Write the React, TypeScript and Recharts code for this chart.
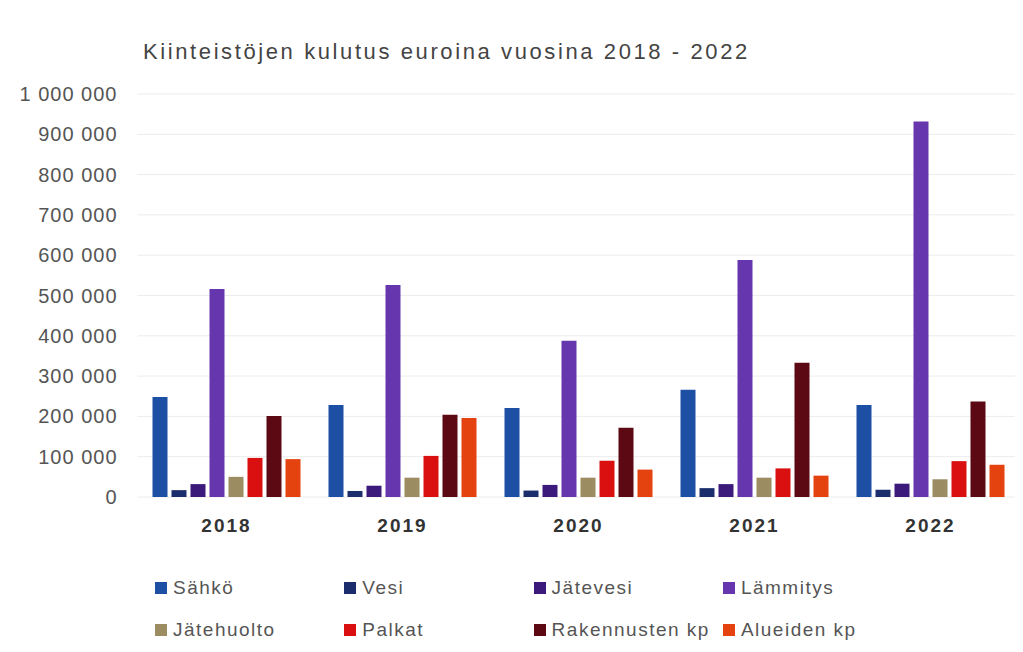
import { BarChart, Bar, XAxis, YAxis, CartesianGrid } from "recharts"

const years = ["2018", "2019", "2020", "2021", "2022"]

const sahko = [248000, 228000, 221000, 266000, 228000]
const vesi = [17000, 15000, 16000, 22000, 18000]
const jatevesi = [32000, 28000, 30000, 32000, 33000]
const lammitys = [516000, 526000, 388000, 588000, 932000]
const jatehuolto = [50000, 48000, 48000, 48000, 44000]
const palkat = [97000, 102000, 90000, 71000, 89000]
const rakennusten = [201000, 204000, 172000, 333000, 237000]
const alueiden = [94000, 196000, 68000, 53000, 80000]

const seriesNames = [
  "Sähkö",
  "Vesi",
  "Jätevesi",
  "Lämmitys",
  "Jätehuolto",
  "Palkat",
  "Rakennusten kp",
  "Alueiden kp",
]
const seriesValues = [sahko, vesi, jatevesi, lammitys, jatehuolto, palkat, rakennusten, alueiden]
const seriesColors = [
  "#1d4fa5",
  "#1b2d6c",
  "#3b1a7c",
  "#6536ad",
  "#9b8c62",
  "#d90f10",
  "#5c0913",
  "#e4430f",
]

const yTicks = [0, 100000, 200000, 300000, 400000, 500000, 600000, 700000, 800000, 900000, 1000000]

const data = years.map((year, i) => {
  const row: Record<string, string | number> = { year }
  seriesNames.forEach((name, s) => {
    row[name] = seriesValues[s][i]
  })
  return row
})

const fmt = (v: number) => String(v).replace(/\B(?=(\d{3})+(?!\d))/g, " ")

// eslint-disable-next-line @typescript-eslint/no-explicit-any
function YTick({ x, y, payload }: any) {
  return (
    <text
      x={x - 12}
      y={y}
      dy="0.35em"
      textAnchor="end"
      fontFamily="'Liberation Sans', Arial, sans-serif"
      fontSize={20}
      letterSpacing={1}
      fill="#555"
    >
      {fmt(payload.value)}
    </text>
  )
}

// eslint-disable-next-line @typescript-eslint/no-explicit-any
function XTick({ x, y, payload }: any) {
  return (
    <text
      x={x + 1}
      y={y + 27}
      textAnchor="middle"
      fontFamily="'Liberation Sans', Arial, sans-serif"
      fontSize={19}
      fontWeight="bold"
      letterSpacing={2}
      fill="#333"
    >
      {payload.value}
    </text>
  )
}

const font = "'Liberation Sans', Arial, sans-serif"

export default function App() {
  return (
    <div style={{ position: "relative", width: 1012, height: 636, fontFamily: font }}>
      <div
        style={{
          position: "absolute",
          left: 135,
          top: 33,
          fontSize: 22,
          lineHeight: "22px",
          letterSpacing: 2.6,
          color: "#444",
          whiteSpace: "nowrap",
        }}
      >
        Kiinteistöjen kulutus euroina vuosina 2018 - 2022
      </div>
      <BarChart
        width={1012}
        height={636}
        data={data}
        margin={{ top: 86, right: 2.5, bottom: 107, left: 0 }}
        barCategoryGap={15}
        barGap={4}
      >
        <CartesianGrid vertical={false} stroke="#ececec" />
        <XAxis dataKey="year" axisLine={false} tickLine={false} height={40} tick={<XTick />} />
        <YAxis
          width={129.5}
          domain={[0, 1000000]}
          ticks={yTicks}
          interval={0}
          axisLine={false}
          tickLine={false}
          tick={<YTick />}
        />
        {seriesNames.map((name, s) => (
          <Bar key={name} dataKey={name} fill={seriesColors[s]} isAnimationActive={false} />
        ))}
      </BarChart>
      {seriesNames.map((name, s) => (
        <div
          key={name}
          style={{
            position: "absolute",
            left: 147 + (s % 4) * 189.3,
            top: (s < 4 ? 580 : 622) - 11,
            height: 22,
            display: "flex",
            alignItems: "center",
            whiteSpace: "nowrap",
          }}
        >
          <span
            style={{ width: 12, height: 12, background: seriesColors[s], marginRight: 6, display: "inline-block" }}
          />
          <span style={{ fontSize: 19, letterSpacing: 1.5, color: "#555" }}>{name}</span>
        </div>
      ))}
    </div>
  )
}
